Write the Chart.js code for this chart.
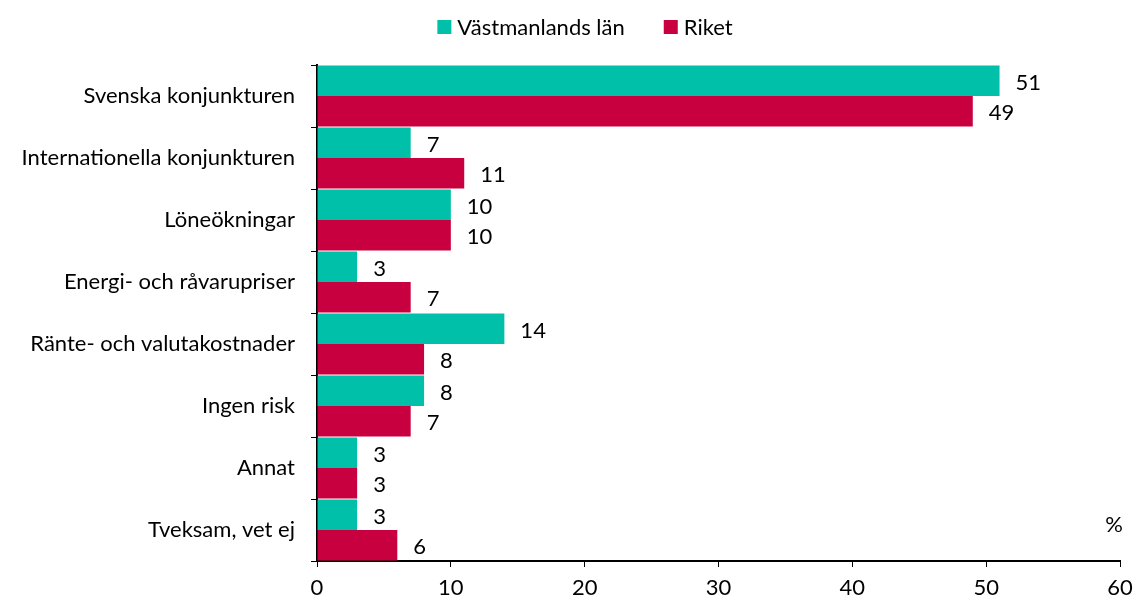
<!DOCTYPE html>
<html>
<head>
<meta charset="utf-8">
<script src="https://cdn.jsdelivr.net/npm/chart.js@4.4.1/dist/chart.umd.min.js"></script>
<style>
    html, body { margin: 0; padding: 0; background: #fff; }
    #wrap { width: 1133px; height: 599px; position: relative; }
</style>
</head>
<body>
<div id="wrap"><canvas id="riskChart"></canvas></div>
<script>
const categories = [
    "Svenska konjunkturen",
    "Internationella konjunkturen",
    "Löneökningar",
    "Energi- och råvarupriser",
    "Ränte- och valutakostnader",
    "Ingen risk",
    "Annat",
    "Tveksam, vet ej"
];
const seriesNames = ["Västmanlands län", "Riket"];
const lanValues = [51, 7, 10, 3, 14, 8, 3, 3];
const riketValues = [49, 11, 10, 7, 8, 7, 3, 6];
const xTicks = [0, 10, 20, 30, 40, 50, 60];

const FONT = "Lato, 'Open Sans', sans-serif";
const TEAL = "#00c0a9";
const RED = "#c9003f";

// value labels, the "%" text and the legend on top
const extras = {
    id: "extras",
    afterDatasetsDraw(chart) {
        const ctx = chart.ctx;
        ctx.save();
        ctx.font = "22px " + FONT;
        ctx.fillStyle = "#000";
        ctx.textBaseline = "middle";
        ctx.textAlign = "left";
        chart.data.datasets.forEach((ds, i) => {
            chart.getDatasetMeta(i).data.forEach((bar, j) => {
                ctx.fillText(ds.data[j], bar.x + 16, bar.y + 2);
            });
        });
        const x = chart.scales.x;
        ctx.textAlign = "center";
        ctx.fillText("%", x.right - 6, chart.chartArea.bottom - 36);

        // legend
        const colors = [TEAL, RED];
        const box = 14, gap = 6, between = 39;
        let total = 0;
        const widths = seriesNames.map((n) => ctx.measureText(n).width);
        widths.forEach((w) => (total += box + gap + w));
        total += between;
        let lx = 585 - total / 2;
        const ly = 27;
        ctx.textAlign = "left";
        seriesNames.forEach((n, i) => {
            ctx.fillStyle = colors[i];
            ctx.fillRect(lx, ly - box / 2, box, box);
            ctx.fillStyle = "#000";
            ctx.fillText(n, lx + box + gap, ly + 1);
            lx += box + gap + widths[i] + between;
        });
        ctx.restore();
    }
};

new Chart(document.getElementById("riskChart"), {
    type: "bar",
    data: {
        labels: categories,
        datasets: [
            {
                label: seriesNames[0],
                data: lanValues,
                backgroundColor: TEAL,
                categoryPercentage: 0.98,
                barPercentage: 1.0,
            },
            {
                label: seriesNames[1],
                data: riketValues,
                backgroundColor: RED,
                categoryPercentage: 0.98,
                barPercentage: 1.0,
            },
        ],
    },
    options: {
        indexAxis: "y",
        responsive: true,
        maintainAspectRatio: false,
        animation: false,
        layout: { padding: { left: 0, right: 0, top: 65, bottom: 0 } },
        plugins: {
            legend: { display: false },
            tooltip: { enabled: false },
        },
        scales: {
            x: {
                min: 0,
                max: 60,
                afterBuildTicks: (scale) => {
                    scale.ticks = xTicks.map((v) => ({ value: v }));
                },
                afterFit: (scale) => {
                    scale.height = 38;
                    scale.paddingRight = 13;
                },
                grid: {
                    drawOnChartArea: false,
                    drawTicks: true,
                    tickLength: 6,
                    color: "#000",
                },
                border: { color: "#000", width: 2 },
                ticks: {
                    color: "#000",
                    padding: 8,
                    font: { family: FONT, size: 22 },
                },
            },
            y: {
                afterFit: (scale) => {
                    scale.width = 317;
                },
                grid: {
                    drawOnChartArea: false,
                    drawTicks: true,
                    tickLength: 6,
                    color: "#000",
                    offset: true,
                },
                border: { color: "#000", width: 2 },
                ticks: {
                    color: "#000",
                    padding: 16,
                    font: { family: FONT, size: 22 },
                },
            },
        },
    },
    plugins: [extras],
});
</script>
</body>
</html>
